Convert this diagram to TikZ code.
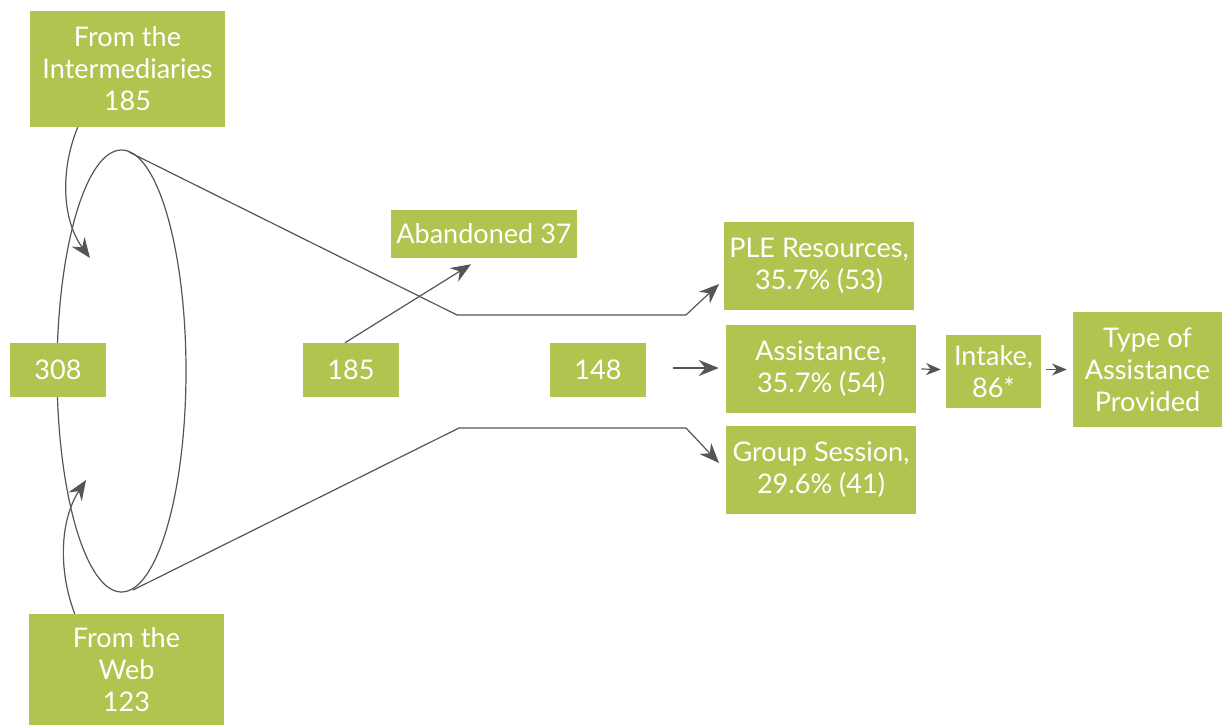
\documentclass[tikz,border=0pt]{standalone}
\usepackage{fontspec}
\setmainfont{Lato}
\usepackage{tikz}
\usetikzlibrary{arrows.meta,calc}
\definecolor{boxgreen}{RGB}{175,197,80}
\definecolor{linegray}{RGB}{85,85,85}

\begin{document}
\begin{tikzpicture}[x=0.75pt,y=0.75pt,yscale=-1,xscale=1,
  box/.style={fill=boxgreen, text=white, align=center, inner sep=0pt, font=\fontsize{20.3}{24}\selectfont},
  edge/.style={draw=linegray, line width=0.9pt},
  flow/.style={edge, -{Stealth[length=15pt,width=12pt,inset=5pt]}},
  smallflow/.style={edge, -{Stealth[length=11pt,width=9pt,inset=3.5pt]}}]
\useasboundingbox (0,0) rectangle (1222,725);

%Shape: Ellipse (funnel mouth)
\draw [edge] (121.5,371) ellipse (64.5 and 221);
\coordinate (ftop) at (129,152);
\coordinate (fbot) at (133,590);
\coordinate (bendA) at (457,315);
\coordinate (elbowA) at (686,315);
\coordinate (bendB) at (459,428);
\coordinate (elbowB) at (686,428);
\coordinate (tipA) at (719,284);
\coordinate (tipB) at (719,463);
\coordinate (inTop) at (90,258);
\coordinate (inBot) at (86,480);

%Shape: Rectangle (sources)
\node [box, minimum width=146.25pt, minimum height=87pt] (inter) at (127.5,69) {From the\\Intermediaries\\185};
\node [box, minimum width=146.25pt, minimum height=83.25pt] (web) at (126.5,669.5) {From the\\Web\\123};
%Shape: Rectangle (counts)
\node [box, minimum width=72pt, minimum height=40.5pt] (total) at (58,370) {308};
\node [box, minimum width=72pt, minimum height=40.5pt] (started) at (351,370) {185};
\node [box, minimum width=139.5pt, minimum height=36pt] (aband) at (484,234) {Abandoned 37};
\node [box, minimum width=72pt, minimum height=40.5pt] (done) at (598,370) {148};
%Shape: Rectangle (outcomes)
\node [box, minimum width=142.5pt, minimum height=66pt] (ple) at (819,266) {PLE Resources,\\35.7\% (53)};
\node [box, minimum width=142.5pt, minimum height=66pt] (assist) at (821,369) {Assistance,\\35.7\% (54)};
\node [box, minimum width=142.5pt, minimum height=66pt] (group) at (821,470) {Group Session,\\29.6\% (41)};
\node [box, minimum width=71.25pt, minimum height=54.75pt] (intake) at (993.5,371.5) {Intake,\\86*};
\node [box, minimum width=111.75pt, minimum height=86.25pt] (type) at (1147.5,369.5) {Type of\\Assistance\\Provided};

%Funnel sides
\draw [edge] (ftop) -- (bendA) -- (elbowA);
\draw [flow] (elbowA) -- (tipA);
\draw [edge] (fbot) -- (bendB) -- (elbowB);
\draw [flow] (elbowB) -- (tipB);

%Arrows
\draw [flow] (inter.south west) ++(48,0) .. controls (60,170) and (62,220) .. (inTop);
\draw [flow] (web.north west) ++(46,0) .. controls (58,570) and (60,520) .. (inBot);
\draw [flow] (started.north) ++(-6,0) -- ($(aband.south)+(-13,6)$);
\draw [flow] (done.east) ++(27,-2) -- ($(assist.west)+(-7,-1)$);
\draw [smallflow] (assist.east) ++(5,0) -- ($(intake.west)+(-5,-2)$);
\draw [smallflow] (intake.east) ++(5,-2) -- ($(type.west)+(-6,0)$);

\end{tikzpicture}
\end{document}
